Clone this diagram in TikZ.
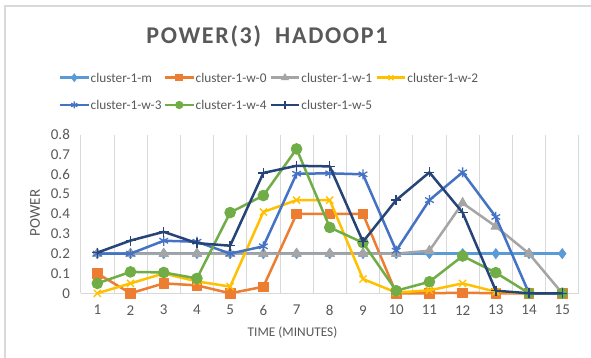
\documentclass[tikz,border=0pt]{standalone}
\usepackage{fontspec}
\setmainfont{Carlito}
\newfontfamily\titlefont[LetterSpace=7]{Carlito}
\usetikzlibrary{plotmarks}
\definecolor{cM}{HTML}{5B9BD5}
\definecolor{cWo}{HTML}{ED7D31}
\definecolor{cWa}{HTML}{A5A5A5}
\definecolor{cWb}{HTML}{FFC000}
\definecolor{cWc}{HTML}{4472C4}
\definecolor{cWd}{HTML}{70AD47}
\definecolor{cWe}{HTML}{264478}
\definecolor{txt}{HTML}{595959}
\definecolor{grid}{HTML}{D9D9D9}
\tikzset{
  lbl/.style={font=\fontsize{13.3}{15}\selectfont, text=txt, inner sep=0pt},
  ticklbl/.style={font=\fontsize{15}{17}\selectfont, text=txt, inner sep=0pt},
  series/.style={line width=2.5pt, line join=round, color=#1, mark options={solid, fill=#1, draw=#1}},
  legline/.style={line width=2.4pt, color=#1, mark options={solid, fill=#1, draw=#1}},
  gridline/.style={draw=grid, line width=0.8pt},
}
\begin{document}
\begin{tikzpicture}[x=1pt, y=-1pt]
\useasboundingbox (0,0) rectangle (591,358);
\fill[white] (0,0) rectangle (591,358);
\draw[grid, line width=1.2pt] (5,358) -- (5,6) -- (591,6);
% title
\node[inner sep=0pt, text=txt] (title) at (267,36) {\titlefont\fontsize{24}{27}\selectfont\bfseries POWER(3)\ \ HADOOP1};
% legend
\foreach \xa/\ya/\col/\mk/\ms/\name/\id in {
  60/77.7/cM/diamond*/3.5/cluster-1-m/la,
  165/77.7/cWo/square*/3.2/cluster-1-w-0/lb,
  270.7/77.7/cWa/triangle*/3.5/cluster-1-w-1/lc,
  376.7/77.7/cWb/x/3.5/cluster-1-w-2/ld,
  60/105/cWc/asterisk/3.5/cluster-1-w-3/le,
  165/105/cWd/*/3.5/cluster-1-w-4/lf,
  270.7/105/cWe/+/3.8/cluster-1-w-5/lg}{
  \draw[legline=\col] (\xa,\ya) -- ++(28.5,0);
  \path[legline=\col] plot[mark=\mk, mark size=\ms pt, mark options={line width=1.2pt}] coordinates {(\xa+14.25,\ya)};
  \node[lbl, anchor=west] (\id) at (\xa+30.5,\ya) {\name};
}
% plot area
\begin{scope}[shift={(64.09,293.3)}, x=33.21pt, y=198.3pt]
  \foreach \k in {0,...,15} {\draw[gridline] (\k+0.5,0) -- (\k+0.5,0.8);}
  \draw[gridline] (0.5,0) -- (15.5,0);
  \foreach \i in {1,...,15} {\node[ticklbl] (xt\i) at (\i,-0.085) {\i};}
  \foreach \v/\t in {0/0,0.1/0.1,0.2/0.2,0.3/0.3,0.4/0.4,0.5/0.5,0.6/0.6,0.7/0.7,0.8/0.8} {
    \node[ticklbl, anchor=east] (yt\t) at (0.18,\v) {\t};}
  % series
  \draw[series=cM] plot[mark=diamond*, mark size=5pt, mark options={line width=0.8pt}] coordinates {
    (1,0.2) (2,0.2) (3,0.2) (4,0.2) (5,0.2) (6,0.2) (7,0.2) (8,0.2) (9,0.2) (10,0.2) (11,0.2) (12,0.2) (13,0.2) (14,0.2) (15,0.2)};
  \draw[series=cWo] plot[mark=square*, mark size=4.8pt, mark options={line width=0.8pt}] coordinates {
    (1,0.1) (2,0) (3,0.05) (4,0.04) (5,0) (6,0.033) (7,0.4) (8,0.4) (9,0.4) (10,0) (11,0) (12,0.003) (13,0) (14,0) (15,0)};
  \draw[series=cWa] plot[mark=triangle*, mark size=5.5pt, mark options={line width=0.8pt}] coordinates {
    (1,0.2) (2,0.2) (3,0.2) (4,0.2) (5,0.2) (6,0.2) (7,0.2) (8,0.2) (9,0.2) (10,0.2) (11,0.215) (12,0.455) (13,0.337) (14,0.2) (15,0)};
  \draw[series=cWb] plot[mark=x, mark size=5pt, mark options={line width=1.4pt}] coordinates {
    (1,0) (2,0.05) (3,0.1) (4,0.06) (5,0.034) (6,0.41) (7,0.47) (8,0.47) (9,0.072) (10,0.004) (11,0.015) (12,0.05) (13,0.008) (14,0) (15,0)};
  \draw[series=cWc] plot[mark=asterisk, mark size=5pt, mark options={line width=1.3pt}] coordinates {
    (1,0.2) (2,0.2) (3,0.265) (4,0.26) (5,0.2) (6,0.237) (7,0.603) (8,0.605) (9,0.6) (10,0.215) (11,0.47) (12,0.61) (13,0.385) (14,0) (15,0)};
  \draw[series=cWd] plot[mark=*, mark size=5.4pt, mark options={line width=0.8pt}] coordinates {
    (1,0.05) (2,0.108) (3,0.105) (4,0.075) (5,0.407) (6,0.493) (7,0.728) (8,0.332) (9,0.255) (10,0.013) (11,0.058) (12,0.188) (13,0.104) (14,0) (15,0)};
  \draw[series=cWe] plot[mark=+, mark size=5pt, mark options={line width=1.4pt}] coordinates {
    (1,0.205) (2,0.266) (3,0.31) (4,0.253) (5,0.24) (6,0.607) (7,0.643) (8,0.64) (9,0.26) (10,0.47) (11,0.61) (12,0.407) (13,0.013) (14,0) (15,0)};
\end{scope}
\node[ticklbl, rotate=90] (ylab) at (35,213) {POWER};
\node[lbl] (xlab) at (292.5,332.5) {TIME (MINUTES)};
\end{tikzpicture}
\end{document}
